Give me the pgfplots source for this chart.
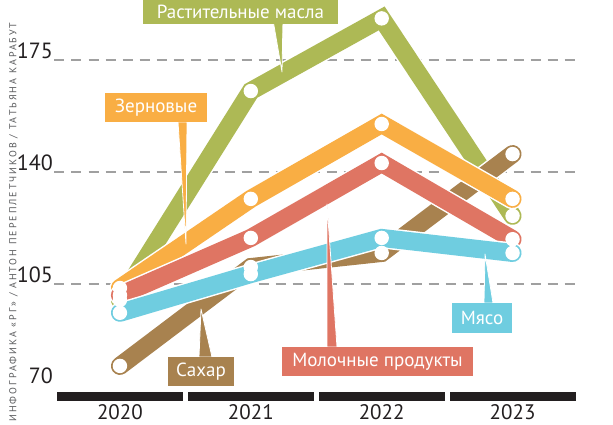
\documentclass[border=0pt]{standalone}
\usepackage{pgfplots}
\pgfplotsset{compat=1.18}
\usepackage{fontspec}
\setmainfont{PT Sans}
\definecolor{cgreen}{HTML}{ADB955}
\definecolor{corange}{HTML}{F9AE44}
\definecolor{cred}{HTML}{DF7563}
\definecolor{cblue}{HTML}{6FCDE0}
\definecolor{cbrown}{HTML}{A8824F}
\definecolor{cblack}{HTML}{231F20}
\definecolor{cgrid}{HTML}{A0A0A0}
\definecolor{ccredit}{HTML}{58595B}
\begin{document}
\begin{tikzpicture}[x=1pt,y=1pt]
\path[use as bounding box] (0,0) rectangle (613,424);
\begin{axis}[
  at={(54.5pt,28pt)}, anchor=south west,
  scale only axis, width=523.5pt, height=396pt,
  xmin=-0.5, xmax=3.5, ymin=70, ymax=193.75,
  clip=false,
  axis line style={draw=none},
  major tick length=0pt,
  xtick={0,1,2,3}, xticklabels={2020,2021,2022,2023},
  ytick={105,140,175},
  extra y ticks={70},
  extra y tick style={grid=none, yticklabel style={yshift=11pt}},
  ymajorgrids,
  grid style={dash pattern=on 10pt off 7pt, color=cgrid, line width=1.4pt},
  /pgf/number format/assume math mode=true,
  ticklabel style={text=cblack, inner sep=0pt},
  yticklabel style={font=\fontsize{22}{26}\selectfont, anchor=south east, xshift=-1.5pt, yshift=1pt},
  xticklabel style={font=\fontsize{21}{25}\selectfont, anchor=north, yshift=-8pt},
  every axis plot/.append style={line cap=round, line join=miter},
  wm/.style={only marks, mark=*, mark size=6.6pt, line width=1.2pt,
    mark options={solid, fill=white, draw=white}},
]
% year bars
\fill[cblack] (axis cs:-0.481,68.45) rectangle (axis cs:0.481,71.25);
\fill[cblack] (axis cs:0.519,68.45) rectangle (axis cs:1.481,71.25);
\fill[cblack] (axis cs:1.519,68.45) rectangle (axis cs:2.481,71.25);
\fill[cblack] (axis cs:2.519,68.45) rectangle (axis cs:3.481,71.25);
% green
\addplot[white, line width=21pt] coordinates {(0,100) (1,165.3) (2,188) (3,126.3)};
\addplot[cgreen, line width=18pt] coordinates {(0,100) (1,165.3) (2,188) (3,126.3)};
% brown
\addplot[white, line width=21pt] coordinates {(0,79.4) (1,110.3) (2,114.7) (3,145.6)};
\addplot[cbrown, line width=18pt] coordinates {(0,79.4) (1,110.3) (2,114.7) (3,145.6)};
% orange
\addplot[white, line width=21pt] coordinates {(0,103.75) (1,131.6) (2,155) (3,131.6)};
\addplot[corange, line width=18pt] coordinates {(0,103.75) (1,131.6) (2,155) (3,131.6)};
% red
\addplot[white, line width=21pt] coordinates {(0,101.5) (1,119.4) (2,142.8) (3,119)};
\addplot[cred, line width=18pt] coordinates {(0,101.5) (1,119.4) (2,142.8) (3,119)};
% blue
\addplot[white, line width=21pt] coordinates {(0,96) (1,108.1) (2,119.4) (3,114.7)};
\addplot[cblue, line width=18pt] coordinates {(0,96) (1,108.1) (2,119.4) (3,114.7)};
% white markers
\addplot[wm] coordinates {(0,100) (1,165.3) (2,188) (3,126.3)};
\addplot[wm] coordinates {(0,79.4) (1,110.3) (2,114.7) (3,145.6)};
\addplot[wm] coordinates {(0,103.75) (1,131.6) (2,155) (3,131.6)};
\addplot[wm] coordinates {(0,101.5) (1,119.4) (2,142.8) (3,119)};
\addplot[wm] coordinates {(0,96) (1,108.1) (2,119.4) (3,114.7)};
\end{axis}
% pointers
\filldraw[fill=cgreen, draw=white, line width=0.8pt, line join=round] (273,404) -- (283,404) -- (282,352) -- cycle;
\filldraw[fill=corange, draw=white, line width=0.8pt, line join=round] (178,302) -- (187,302) -- (186,180) -- cycle;
\filldraw[fill=cbrown, draw=white, line width=0.8pt, line join=round] (199,67) -- (212,67) -- (201,115) -- cycle;
\filldraw[fill=cred, draw=white, line width=0.8pt, line join=round] (327,77) -- (337,77) -- (327,220) -- cycle;
\filldraw[fill=cblue, draw=white, line width=0.8pt, line join=round] (484,121) -- (493,121) -- (485,170) -- cycle;
% labels
\tikzset{lab/.style={fill=#1, text=white, inner sep=0pt, font=\fontsize{19}{22}\selectfont}}
\node[lab=cgreen, minimum width=195pt, minimum height=24pt] at (240.5,412) {Растительные масла};
\node[lab=corange, minimum width=102pt, minimum height=29pt] at (156,316.5) {Зерновые};
\node[lab=cbrown, minimum width=66pt, minimum height=29pt] at (201,52.5) {Сахар};
\node[lab=cred, minimum width=191pt, minimum height=29pt] at (377.5,62.5) {Молочные продукты};
\node[lab=cblue, minimum width=60pt, minimum height=30pt] at (482,106) {Мясо};
% credit
\node[rotate=90, text=ccredit, inner sep=0pt] at (13.5,202) {\fontsize{10}{12}\selectfont\addfontfeature{LetterSpace=20}ИНФОГРАФИКА «РГ» / АНТОН ПЕРЕПЛЕТЧИКОВ / ТАТЬЯНА КАРАБУТ};
\end{tikzpicture}
\end{document}
